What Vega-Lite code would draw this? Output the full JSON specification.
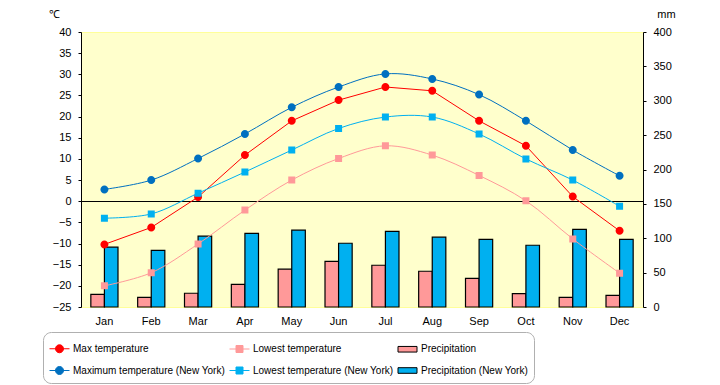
{
  "$schema": "https://vega.github.io/schema/vega-lite/v6.json",
  "width": 562,
  "height": 275,
  "autosize": {"type": "none"},
  "padding": {"left": 81, "top": 32, "right": 77, "bottom": 78},
  "background": "white",
  "config": {
    "view": {"fill": "#FFFFCC", "stroke": "#FFFF99", "strokeWidth": 1},
    "font": "Liberation Sans",
    "axis": {"labelColor": "black", "grid": false, "labelFontSize": 11, "titleFontWeight": "normal", "titleColor": "black", "labelFont": "Liberation Sans", "titleFont": "Liberation Sans"},
    "axisY": {"labelOverlap": false},
    "axisQuantitative": {"labelOverlap": false}
  },
  "datasets": {
    "temp": [
      {"month": "Jan", "series": "Max temperature", "value": -10.2},
      {"month": "Feb", "series": "Max temperature", "value": -6.2},
      {"month": "Mar", "series": "Max temperature", "value": 1.0},
      {"month": "Apr", "series": "Max temperature", "value": 10.9},
      {"month": "May", "series": "Max temperature", "value": 19.0},
      {"month": "Jun", "series": "Max temperature", "value": 23.9},
      {"month": "Jul", "series": "Max temperature", "value": 27.0},
      {"month": "Aug", "series": "Max temperature", "value": 26.1},
      {"month": "Sep", "series": "Max temperature", "value": 19.0},
      {"month": "Oct", "series": "Max temperature", "value": 13.1},
      {"month": "Nov", "series": "Max temperature", "value": 1.1},
      {"month": "Dec", "series": "Max temperature", "value": -7.0},
      {"month": "Jan", "series": "Lowest temperature", "value": -20.0},
      {"month": "Feb", "series": "Lowest temperature", "value": -16.9},
      {"month": "Mar", "series": "Lowest temperature", "value": -10.1},
      {"month": "Apr", "series": "Lowest temperature", "value": -2.1},
      {"month": "May", "series": "Lowest temperature", "value": 5.0},
      {"month": "Jun", "series": "Lowest temperature", "value": 10.1},
      {"month": "Jul", "series": "Lowest temperature", "value": 13.1},
      {"month": "Aug", "series": "Lowest temperature", "value": 10.9},
      {"month": "Sep", "series": "Lowest temperature", "value": 6.1},
      {"month": "Oct", "series": "Lowest temperature", "value": 0.1},
      {"month": "Nov", "series": "Lowest temperature", "value": -8.9},
      {"month": "Dec", "series": "Lowest temperature", "value": -17.0},
      {"month": "Jan", "series": "Maximum temperature (New York)", "value": 2.8},
      {"month": "Feb", "series": "Maximum temperature (New York)", "value": 5.0},
      {"month": "Mar", "series": "Maximum temperature (New York)", "value": 10.1},
      {"month": "Apr", "series": "Maximum temperature (New York)", "value": 15.9},
      {"month": "May", "series": "Maximum temperature (New York)", "value": 22.2},
      {"month": "Jun", "series": "Maximum temperature (New York)", "value": 27.0},
      {"month": "Jul", "series": "Maximum temperature (New York)", "value": 30.1},
      {"month": "Aug", "series": "Maximum temperature (New York)", "value": 28.9},
      {"month": "Sep", "series": "Maximum temperature (New York)", "value": 25.2},
      {"month": "Oct", "series": "Maximum temperature (New York)", "value": 19.0},
      {"month": "Nov", "series": "Maximum temperature (New York)", "value": 12.1},
      {"month": "Dec", "series": "Maximum temperature (New York)", "value": 6.0},
      {"month": "Jan", "series": "Lowest temperature (New York)", "value": -4.0},
      {"month": "Feb", "series": "Lowest temperature (New York)", "value": -3.0},
      {"month": "Mar", "series": "Lowest temperature (New York)", "value": 1.9},
      {"month": "Apr", "series": "Lowest temperature (New York)", "value": 6.9},
      {"month": "May", "series": "Lowest temperature (New York)", "value": 12.1},
      {"month": "Jun", "series": "Lowest temperature (New York)", "value": 17.2},
      {"month": "Jul", "series": "Lowest temperature (New York)", "value": 19.9},
      {"month": "Aug", "series": "Lowest temperature (New York)", "value": 19.9},
      {"month": "Sep", "series": "Lowest temperature (New York)", "value": 15.9},
      {"month": "Oct", "series": "Lowest temperature (New York)", "value": 10.0},
      {"month": "Nov", "series": "Lowest temperature (New York)", "value": 5.0},
      {"month": "Dec", "series": "Lowest temperature (New York)", "value": -1.2}
    ],
    "prec": [
      {"month": "Jan", "series": "Precipitation", "mm": 18.5},
      {"month": "Feb", "series": "Precipitation", "mm": 14},
      {"month": "Mar", "series": "Precipitation", "mm": 20},
      {"month": "Apr", "series": "Precipitation", "mm": 33},
      {"month": "May", "series": "Precipitation", "mm": 55},
      {"month": "Jun", "series": "Precipitation", "mm": 66.5},
      {"month": "Jul", "series": "Precipitation", "mm": 60.7},
      {"month": "Aug", "series": "Precipitation", "mm": 52},
      {"month": "Sep", "series": "Precipitation", "mm": 41.7},
      {"month": "Oct", "series": "Precipitation", "mm": 19.4},
      {"month": "Nov", "series": "Precipitation", "mm": 14},
      {"month": "Dec", "series": "Precipitation", "mm": 17},
      {"month": "Jan", "series": "Precipitation (New York)", "mm": 87},
      {"month": "Feb", "series": "Precipitation (New York)", "mm": 82.5},
      {"month": "Mar", "series": "Precipitation (New York)", "mm": 103},
      {"month": "Apr", "series": "Precipitation (New York)", "mm": 107},
      {"month": "May", "series": "Precipitation (New York)", "mm": 111.7},
      {"month": "Jun", "series": "Precipitation (New York)", "mm": 92.7},
      {"month": "Jul", "series": "Precipitation (New York)", "mm": 110},
      {"month": "Aug", "series": "Precipitation (New York)", "mm": 101.5},
      {"month": "Sep", "series": "Precipitation (New York)", "mm": 98.5},
      {"month": "Oct", "series": "Precipitation (New York)", "mm": 89.8},
      {"month": "Nov", "series": "Precipitation (New York)", "mm": 113},
      {"month": "Dec", "series": "Precipitation (New York)", "mm": 98.5}
    ]
  },
  "resolve": {"scale": {"y": "independent"}},
  "layer": [
    {
      "data": {"name": "prec"},
      "mark": {"type": "bar", "strokeWidth": 1.2},
      "encoding": {
        "x": {"field": "month", "type": "nominal",
          "scale": {"domain": ["Jan","Feb","Mar","Apr","May","Jun","Jul","Aug","Sep","Oct","Nov","Dec"], "paddingInner": 0.42, "paddingOuter": 0.21},
          "axis": {"title": null, "domain": false, "ticks": false, "labelPadding": 8, "labelAngle": 0, "labelFontSize": 11}},
        "xOffset": {"field": "series", "type": "nominal", "scale": {"domain": ["Precipitation", "Precipitation (New York)"], "paddingInner": 0, "paddingOuter": 0}},
        "y": {"field": "mm", "type": "quantitative",
          "scale": {"domain": [0, 400], "nice": false},
          "axis": {"orient": "right", "values": [0,50,100,150,200,250,300,350,400], "tickCount": 20, "labelOverlap": false, "title": "mm", "titleAngle": 0, "titleX": 23, "titleY": -18, "titleAlign": "center", "titleBaseline": "middle", "titleFontSize": 11, "domainColor": "black", "tickColor": "black", "tickSize": 3, "labelPadding": 7}},
        "fill": {"field": "series", "type": "nominal",
          "scale": {"domain": ["Max temperature", "Lowest temperature", "Precipitation", "Maximum temperature (New York)", "Lowest temperature (New York)", "Precipitation (New York)"],
                    "range": ["#FF0000", "#FF9999", "#FF9999", "#0070C0", "#00B0F0", "#00B0F0"]},
          "legend": {
            "title": null, "orient": "none", "legendX": -38, "legendY": 300,
            "direction": "horizontal", "columns": 3, "gridAlign": "each", "columnPadding": 2, "rowPadding": 5,
            "padding": 6, "strokeColor": "#B0B0B0", "fillColor": "white", "cornerRadius": 8,
            "symbolSize": 400, "symbolStrokeWidth": 1, "symbolOpacity": 1, "labelFontSize": 10, "labelFont": "Liberation Sans", "labelOffset": 3, "labelColor": "black", "labelLimit": 300
          }},
        "stroke": {"field": "series", "type": "nominal",
          "scale": {"domain": ["Max temperature", "Lowest temperature", "Precipitation", "Maximum temperature (New York)", "Lowest temperature (New York)", "Precipitation (New York)"],
                    "range": ["#FF0000", "#FF9999", "#000000", "#0070C0", "#00B0F0", "#000000"]},
          "legend": {
            "title": null, "orient": "none", "legendX": -38, "legendY": 300,
            "direction": "horizontal", "columns": 3, "gridAlign": "each", "columnPadding": 2, "rowPadding": 5,
            "padding": 6, "strokeColor": "#B0B0B0", "fillColor": "white", "cornerRadius": 8,
            "symbolSize": 400, "symbolStrokeWidth": 1, "symbolOpacity": 1, "labelFontSize": 10, "labelFont": "Liberation Sans", "labelOffset": 3, "labelColor": "black", "labelLimit": 300
          }}
      }
    },
    {
      "data": {"name": "temp"},
      "layer": [
        {
          "mark": {"type": "rule", "color": "black", "strokeWidth": 1, "yOffset": 0.27},
          "encoding": {"y": {"datum": 0, "type": "quantitative", "axis": {"orient": "left", "values": [-25,-20,-15,-10,-5,0,5,10,15,20,25,30,35,40], "tickCount": 20, "labelOverlap": false, "labelFlush": false, "title": "℃", "titleAngle": 0, "titleX": -27, "titleY": -18, "titleAlign": "center", "titleBaseline": "middle", "titleFontSize": 11, "domainColor": "black", "tickColor": "black", "tickSize": 3, "labelPadding": 7}}}
        },
        {
          "transform": [{"filter": "datum.series == 'Max temperature'"}],
          "mark": {"type": "line", "strokeWidth": 1},
          "encoding": {
            "x": {"field": "month", "type": "nominal"},
            "y": {"field": "value", "type": "quantitative",
              "scale": {"domain": [-25, 40], "nice": false},
              "axis": {"orient": "left", "values": [-25,-20,-15,-10,-5,0,5,10,15,20,25,30,35,40], "tickCount": 20, "labelOverlap": false, "labelFlush": false, "title": "℃", "titleAngle": 0, "titleX": -27, "titleY": -18, "titleAlign": "center", "titleBaseline": "middle", "titleFontSize": 11, "domainColor": "black", "tickColor": "black", "tickSize": 3, "labelPadding": 7}},
            "stroke": {"field": "series", "type": "nominal"}
          }
        },
        {
          "transform": [{"filter": "datum.series != 'Max temperature'"}],
          "mark": {"type": "line", "strokeWidth": 1, "interpolate": "catmull-rom"},
          "encoding": {
            "x": {"field": "month", "type": "nominal"},
            "y": {"field": "value", "type": "quantitative"},
            "stroke": {"field": "series", "type": "nominal"}
          }
        },
        {
          "mark": {"type": "point", "filled": true, "opacity": 1, "size": 400, "strokeWidth": 0},
          "encoding": {
            "x": {"field": "month", "type": "nominal"},
            "y": {"field": "value", "type": "quantitative"},
            "fill": {"field": "series", "type": "nominal"},
            "shape": {"field": "series", "type": "nominal",
              "scale": {"domain": ["Max temperature", "Lowest temperature", "Precipitation", "Maximum temperature (New York)", "Lowest temperature (New York)", "Precipitation (New York)"],
                        "range": ["M-1,0H1M0.4,0A0.4,0.4,0,1,1,-0.4,0A0.4,0.4,0,1,1,0.4,0Z", "M-1,0H1M-0.35,-0.35H0.35V0.35H-0.35Z", "M-0.95,-0.28H0.95V0.28H-0.95Z", "M-1,0H1M0.4,0A0.4,0.4,0,1,1,-0.4,0A0.4,0.4,0,1,1,0.4,0Z", "M-1,0H1M-0.35,-0.35H0.35V0.35H-0.35Z", "M-0.95,-0.28H0.95V0.28H-0.95Z"]},
              "legend": {
                "title": null, "orient": "none", "legendX": -38, "legendY": 300,
                "direction": "horizontal", "columns": 3, "gridAlign": "each", "columnPadding": 2, "rowPadding": 5,
                "padding": 6, "strokeColor": "#B0B0B0", "fillColor": "white", "cornerRadius": 8,
                "symbolSize": 400, "symbolStrokeWidth": 1, "symbolOpacity": 1, "labelFontSize": 10, "labelFont": "Liberation Sans", "labelOffset": 3, "labelColor": "black", "labelLimit": 300
              }}
          }
        }
      ]
    }
  ]
}
